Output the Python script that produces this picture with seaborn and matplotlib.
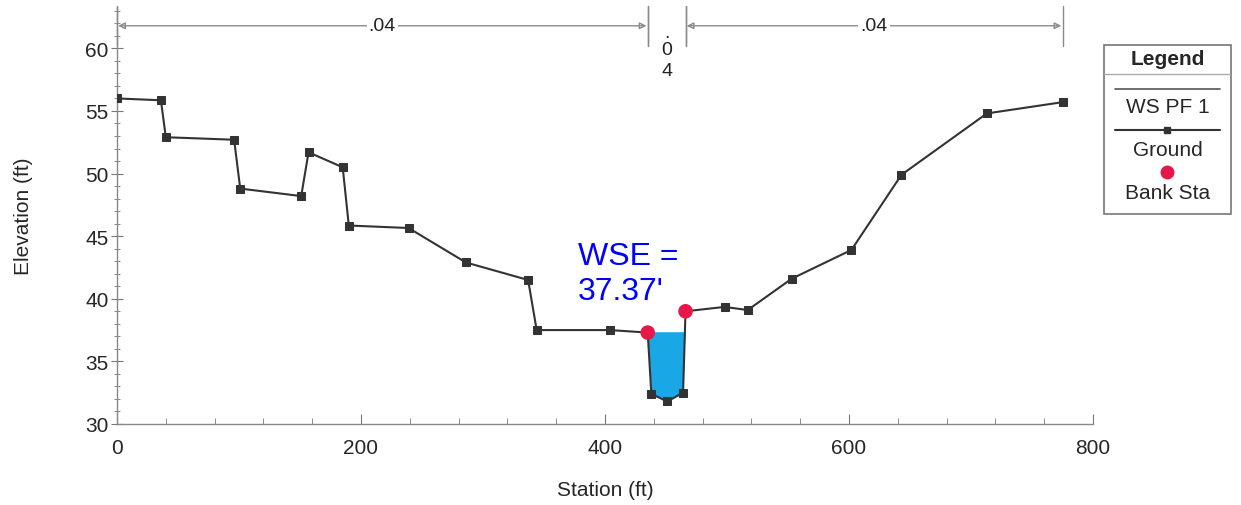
import matplotlib
matplotlib.use("Agg")
import matplotlib.pyplot as plt
import seaborn as sns
import pandas as pd
from matplotlib.lines import Line2D
from matplotlib.patches import Rectangle
from matplotlib.ticker import MultipleLocator

# Cross-section ground profile
station = [0, 36, 40, 96, 101, 151, 157, 185, 190, 239, 286, 337, 344, 404,
           435, 438, 451, 464, 466, 498, 517, 553, 602, 643, 713, 775]
elevation = [56.0, 55.85, 52.9, 52.7, 48.8, 48.2, 51.7, 50.5, 45.85, 45.65,
             42.9, 41.5, 37.5, 37.5, 37.3, 32.4, 31.8, 32.5, 39.0, 39.35,
             39.1, 41.6, 43.9, 49.9, 54.8, 55.7]

# Bank stations
bank_station = [435, 466]
bank_elev = [37.3, 39.0]

# Water surface elevation for profile PF 1
wse = 37.37

# Manning's n reaches: (start, end, value)
n_start = [0, 435, 466]
n_end = [435, 466, 775]
n_value = [".04", ".04", ".04"]

sns.set_style("ticks")
plt.rcParams["font.family"] = ["Liberation Sans", "DejaVu Sans"]

fig = plt.figure(figsize=(12.41, 5.06), dpi=100)
ax = fig.add_axes([117 / 1241, 81 / 506, 976 / 1241, 417 / 506])

ground = pd.DataFrame({"Station": station, "Elevation": elevation})
banks = pd.DataFrame({"Station": bank_station, "Elevation": bank_elev})

# Water between the ground and the water surface
ws = [wse] * len(station)
ax.fill_between(station, elevation, ws,
                where=[e < wse for e in elevation], interpolate=True,
                color="#1aa7e6", linewidth=0, zorder=1)

sns.lineplot(data=ground, x="Station", y="Elevation", ax=ax, sort=False,
             estimator=None, color="#333333", linewidth=1.5, marker="s",
             markersize=6, markeredgecolor="#333333", zorder=3)
sns.scatterplot(data=banks, x="Station", y="Elevation", ax=ax,
                color="#e8174a", s=110, edgecolor="none", zorder=4)

ax.text(378, 44.6, "WSE =\n37.37'", color="#0000ff", fontsize=23,
        va="top", ha="left", zorder=5)

# Manning's n reach markers along the top
grey = "#8a8a8a"
y_line = 61.8
for s0, s1, lab in zip(n_start, n_end, n_value):
    ax.plot([s0, s0], [60.2, 63.4], color=grey, lw=1.0, clip_on=False)
    ax.plot([s1, s1], [60.2, 63.4], color=grey, lw=1.0, clip_on=False)
    if s1 - s0 > 100:
        ax.annotate("", xy=(s0 + 1, y_line), xytext=(s1 - 1, y_line),
                    arrowprops=dict(arrowstyle="<|-|>", color=grey, lw=1.0,
                                    mutation_scale=10, shrinkA=0, shrinkB=0,
                                    fill=False),
                    annotation_clip=False)
        ax.text((s0 + s1) / 2, y_line, lab, ha="center", va="center",
                fontsize=14, color="#222222",
                bbox=dict(facecolor="white", edgecolor="none", pad=1.5))
    else:
        # narrow reach: value written one character per line
        xm = (s0 + s1) / 2
        ax.text(xm, 60.6, ".", ha="center", va="bottom", fontsize=14,
                color="#222222")
        ax.text(xm, 60.55, "0", ha="center", va="top", fontsize=14,
                color="#222222")
        ax.text(xm, 58.2, "4", ha="center", va="center", fontsize=14,
                color="#222222")

ax.set_xlim(0, 800)
ax.set_ylim(30, 63.3)
ax.xaxis.set_major_locator(MultipleLocator(200))
ax.xaxis.set_minor_locator(MultipleLocator(40))
ax.yaxis.set_major_locator(MultipleLocator(5))
ax.yaxis.set_minor_locator(MultipleLocator(1))
ax.tick_params(axis="x", which="both", direction="in", color="#777777",
               labelsize=15, pad=10)
ax.tick_params(axis="x", which="major", length=7)
ax.tick_params(axis="x", which="minor", length=4)
ax.tick_params(axis="y", which="both", direction="inout", color="#777777",
               labelsize=15, pad=2)
ax.tick_params(axis="y", which="major", length=8)
ax.tick_params(axis="y", which="minor", length=4)
sns.despine(ax=ax)
for sp in ("left", "bottom"):
    ax.spines[sp].set_color("#888888")
    ax.spines[sp].set_linewidth(1.0)
ax.set_xlabel("Station (ft)", fontsize=15, labelpad=17)
ax.set_ylabel("Elevation (ft)", fontsize=15, labelpad=38)

# Legend panel
lx0, ly0, lw_, lh_ = 1104, 46, 127, 169
lax = fig.add_axes([lx0 / 1241, (506 - ly0 - lh_) / 506, lw_ / 1241, lh_ / 506])
lax.set_xlim(lx0, lx0 + lw_)
lax.set_ylim(ly0 + lh_, ly0)
lax.axis("off")
lax.add_patch(Rectangle((lx0, ly0), lw_, lh_, fill=False, edgecolor="#777777",
                        lw=1.2, clip_on=False))
cx = lx0 + lw_ / 2
lax.text(cx, 60, "Legend", ha="center", va="center", fontsize=15,
         fontweight="bold")
lax.plot([lx0, lx0 + lw_], [75, 75], color="#aaaaaa", lw=1.0)
lax.add_line(Line2D([1115, 1220], [90, 90], color="#555555", lw=1.2))
lax.text(cx, 108, "WS PF 1", ha="center", va="center", fontsize=15)
lax.add_line(Line2D([1115, 1220], [131, 131], color="#333333", lw=1.5))
lax.add_line(Line2D([1167], [131], color="#333333", marker="s", markersize=5))
lax.text(cx, 151, "Ground", ha="center", va="center", fontsize=15)
lax.add_line(Line2D([1167], [173], color="#e8174a", marker="o",
                    markersize=9, linestyle="none"))
lax.text(cx, 194, "Bank Sta", ha="center", va="center", fontsize=15)

fig.savefig("out.png", dpi=100)
